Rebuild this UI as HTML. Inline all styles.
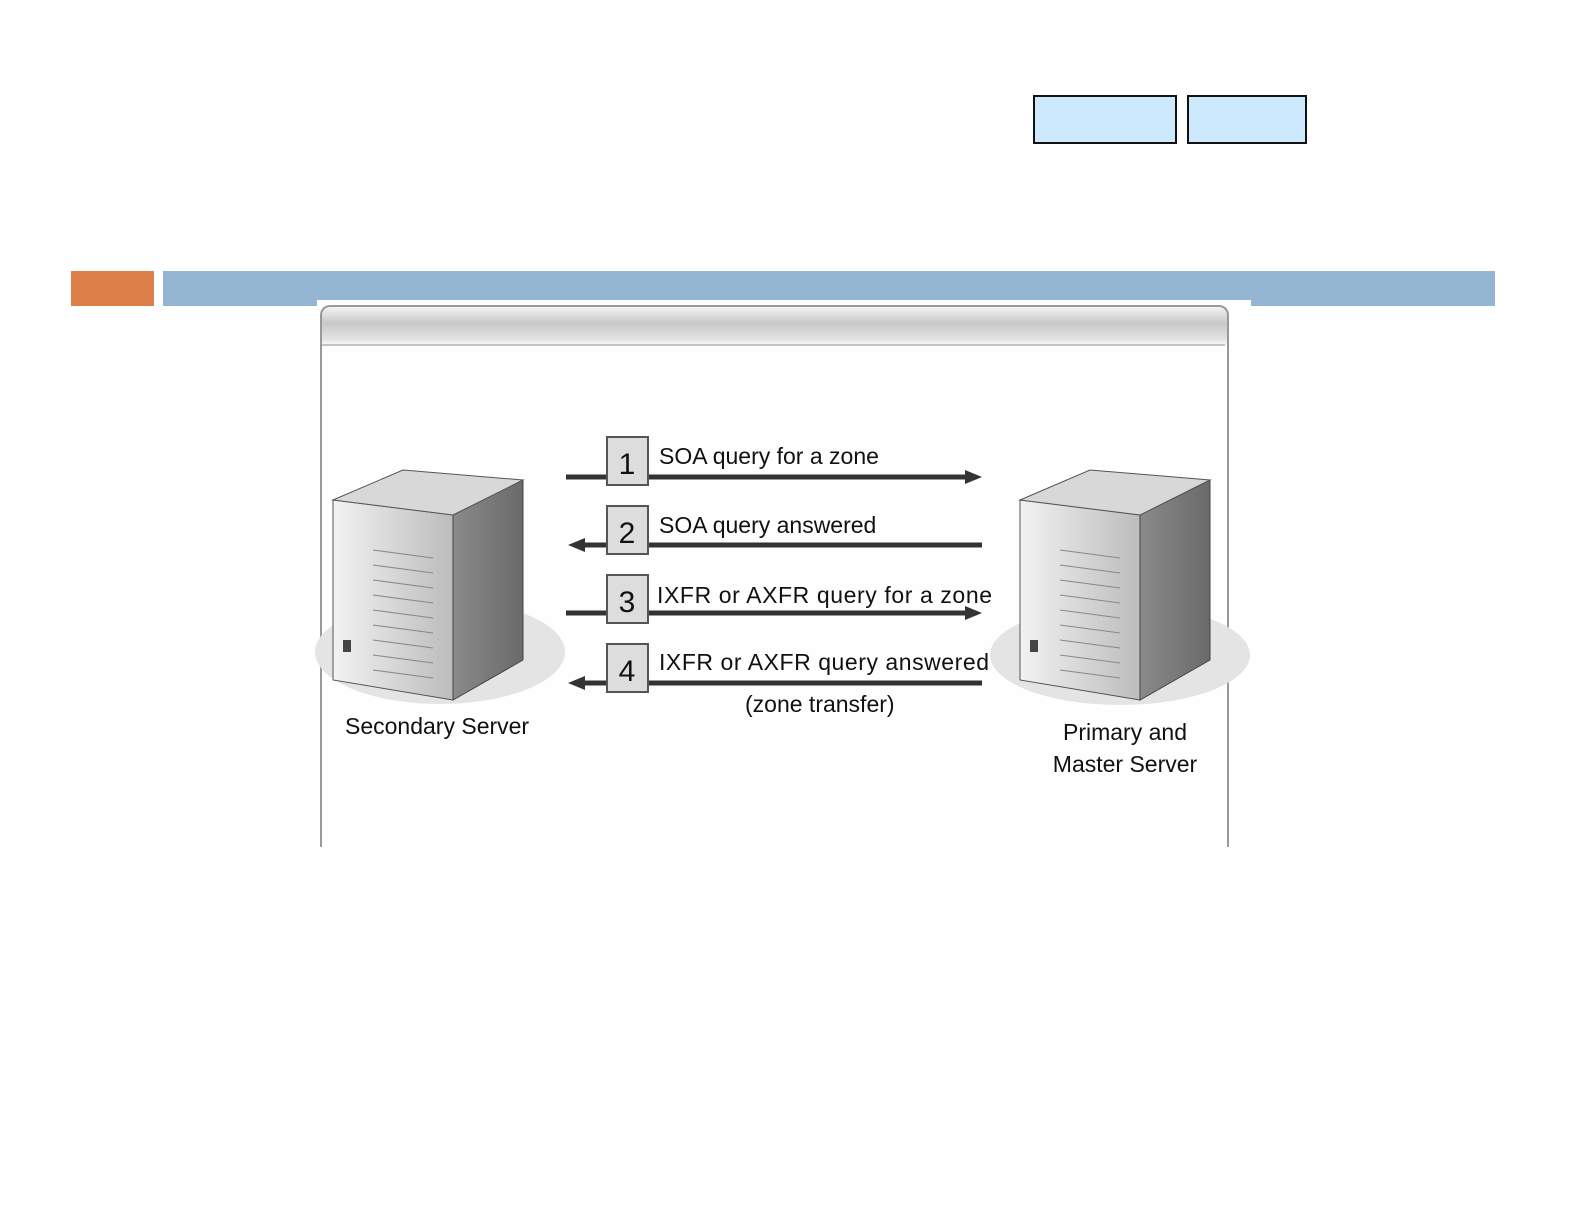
<!DOCTYPE html>
<html><head><style>
body{margin:0;width:1585px;height:1225px;background:#fff;position:relative;overflow:hidden;font-family:"Liberation Sans",sans-serif}
.a{position:absolute}
</style></head><body>
<div class="a" style="left:1033px;top:95px;width:140px;height:45px;background:#cce9fd;border:2px solid #111"></div>
<div class="a" style="left:1187px;top:95px;width:116px;height:45px;background:#cce9fd;border:2px solid #111"></div>
<div class="a" style="left:71px;top:271px;width:83px;height:35px;background:#dd8048"></div>
<div class="a" style="left:163px;top:271px;width:1332px;height:35px;background:#94b6d3"></div>
<div class="a" style="left:317px;top:300px;width:934px;height:539px;background:#fff"></div>
<div class="a" style="left:320px;top:305px;width:905px;height:540px;border:2px solid #999;border-bottom:none;border-radius:10px 10px 0 0;background:linear-gradient(#f4f4f4,#c8c8c8 40%,#e2e2e2 80%,#fff 100%) top/100% 40px no-repeat,#fefefe"></div>
<div class="a" style="left:322px;top:344px;width:903px;height:2px;background:#c4c4c4"></div>
<svg class="a" style="left:0;top:0" width="1585" height="1225">
<defs>
<linearGradient id="f" x1="0" x2="1"><stop offset="0" stop-color="#f2f2f2"/><stop offset="1" stop-color="#bcbcbc"/></linearGradient>
<linearGradient id="s" x1="0" x2="1"><stop offset="0" stop-color="#8a8a8a"/><stop offset="1" stop-color="#6a6a6a"/></linearGradient>
<g id="srv">
<path d="M0 30 L120 45 L120 230 L0 210 Z" fill="url(#f)" stroke="#555"/>
<path d="M120 45 L190 10 L190 190 L120 230 Z" fill="url(#s)" stroke="#444"/>
<path d="M0 30 L70 0 L190 10 L120 45 Z" fill="#d8d8d8" stroke="#555"/>
<g stroke="#888"><line x1="40" y1="80" x2="100" y2="88"/><line x1="40" y1="95" x2="100" y2="103"/><line x1="40" y1="110" x2="100" y2="118"/><line x1="40" y1="125" x2="100" y2="133"/><line x1="40" y1="140" x2="100" y2="148"/><line x1="40" y1="155" x2="100" y2="163"/><line x1="40" y1="170" x2="100" y2="178"/><line x1="40" y1="185" x2="100" y2="193"/><line x1="40" y1="200" x2="100" y2="208"/></g>
<rect x="10" y="170" width="8" height="12" fill="#444"/>
</g>
</defs>
<ellipse cx="440" cy="652" rx="125" ry="52" fill="#e4e4e4"/>
<use href="#srv" x="333" y="470"/>
<ellipse cx="1120" cy="655" rx="130" ry="50" fill="#e4e4e4"/>
<use href="#srv" x="1020" y="470"/>
<g stroke="#333" stroke-width="5" fill="#333">
<line x1="566" y1="477" x2="965" y2="477"/><path d="M965 470 L982 477 L965 484Z" stroke="none"/>
<line x1="585" y1="545" x2="982" y2="545"/><path d="M585 538 L568 545 L585 552Z" stroke="none"/>
<line x1="566" y1="613" x2="965" y2="613"/><path d="M965 606 L982 613 L965 620Z" stroke="none"/>
<line x1="585" y1="683" x2="982" y2="683"/><path d="M585 676 L568 683 L585 690Z" stroke="none"/>
</g>
<g fill="#ddd" stroke="#555" stroke-width="2">
<rect x="607" y="437" width="41" height="48"/><rect x="607" y="506" width="41" height="48"/><rect x="607" y="575" width="41" height="48"/><rect x="607" y="644" width="41" height="48"/>
</g>
<g font-family="Liberation Sans,sans-serif" fill="#111">
<g font-size="30" text-anchor="middle"><text x="627" y="474">1</text><text x="627" y="543">2</text><text x="627" y="612">3</text><text x="627" y="681">4</text></g>
<g font-size="23" textLength="0">
<text x="659" y="464">SOA query for a zone</text>
<text x="659" y="533">SOA query answered</text>
<text x="657" y="603" textLength="335">IXFR or AXFR query for a zone</text>
<text x="659" y="670" textLength="330">IXFR or AXFR query answered</text>
<text x="745" y="712">(zone transfer)</text>
<text x="345" y="734">Secondary Server</text>
<text x="1125" y="740" text-anchor="middle">Primary and</text>
<text x="1125" y="772" text-anchor="middle">Master Server</text>
</g></g>
</svg>
</body></html>
